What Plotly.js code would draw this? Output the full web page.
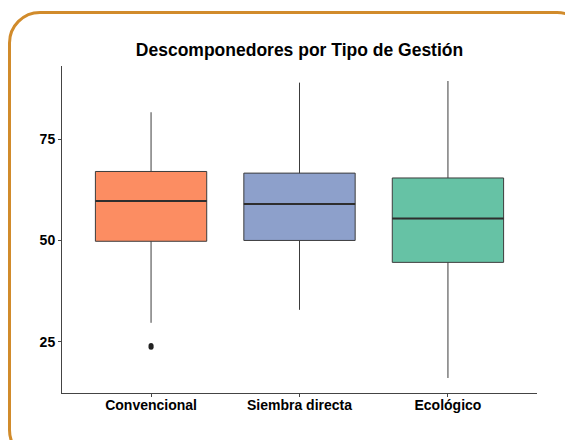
<!DOCTYPE html>
<html>
<head>
<meta charset="utf-8">
<script src="https://cdn.plot.ly/plotly-3.0.1.min.js"></script>
<style>
  html, body { margin:0; padding:0; background:#fff; }
  #wrap { position:relative; width:565px; height:440px; overflow:hidden; }
  #chart { position:absolute; left:0; top:0; width:565px; height:440px; }
  #frame { position:absolute; left:8px; top:11px; width:575px; height:445px; border:3px solid #D18B2B; border-radius:32px; pointer-events:none; }
</style>
</head>
<body>
<div id="wrap"><div id="chart"></div><div id="frame"></div></div>
<script>
// Data
const categories = ["Convencional", "Siembra directa", "Ecológico"];
const q1Values = [49.8, 50.0, 44.6];
const medianValues = [59.7, 59.0, 55.4];
const q3Values = [67.0, 66.6, 65.4];
const lowerWhisker = [29.7, 32.9, 16.1];
const upperWhisker = [81.6, 88.9, 89.3];
const outlierCategory = ["Convencional", "Convencional"];
const outlierValues = [24.1, 23.7];
const fillColors = ["#FC8D62", "#8DA0CB", "#66C2A5"];

const boxWidth = 0.75;
const traces = [];
categories.forEach((c, i) => {
  traces.push({
    type: "box",
    x: [i],
    q1: [q1Values[i]],
    median: [medianValues[i]],
    q3: [q3Values[i]],
    lowerfence: [lowerWhisker[i]],
    upperfence: [upperWhisker[i]],
    width: boxWidth,
    fillcolor: fillColors[i],
    line: { color: "#3c3c3c", width: 1 },
    whiskerwidth: 0,
    boxpoints: false,
    hoverinfo: "skip",
    showlegend: false
  });
});
// thicker median lines
categories.forEach((c, i) => {
  traces.push({
    type: "scatter", mode: "lines",
    x: [i - boxWidth / 2, i + boxWidth / 2],
    y: [medianValues[i], medianValues[i]],
    line: { color: "#2e2e2e", width: 2 },
    hoverinfo: "skip", showlegend: false
  });
});
// outliers
traces.push({
  type: "scatter", mode: "markers",
  x: outlierCategory.map(c => categories.indexOf(c)),
  y: outlierValues,
  marker: { color: "#222", size: 5 },
  hoverinfo: "skip", showlegend: false
});

const font = "'Liberation Sans', Arial, sans-serif";
const layout = {
  width: 565, height: 440,
  paper_bgcolor: "#fff", plot_bgcolor: "#fff",
  margin: { l: 62, r: 28, t: 66, b: 47 },
  title: {
    text: "<b>Descomponedores por Tipo de Gestión</b>",
    font: { family: font, size: 17.5, color: "#000" },
    x: 0.5, xref: "paper", y: 1 - 50 / 440, yref: "container", yanchor: "middle"
  },
  xaxis: {
    range: [-0.6, 2.6],
    tickvals: [0, 1, 2],
    ticktext: categories.map(c => "<b>" + c + "</b>"),
    showgrid: false, zeroline: false,
    showline: true, linecolor: "#444", linewidth: 1,
    ticks: "outside", ticklen: 3, tickcolor: "#444", tickwidth: 1,
    ticklabelstandoff: -4,
    tickfont: { family: font, size: 14, color: "#000" }
  },
  yaxis: {
    range: [12.4, 93.0],
    tickvals: [25, 50, 75],
    ticktext: ["<b>25</b>", "<b>50</b>", "<b>75</b>"],
    showgrid: false, zeroline: false,
    showline: true, linecolor: "#444", linewidth: 1,
    ticks: "outside", ticklen: 3, tickcolor: "#444", tickwidth: 1,
    tickfont: { family: font, size: 14, color: "#000" }
  },
  boxmode: "overlay"
};
Plotly.newPlot("chart", traces, layout, { displayModeBar: false, staticPlot: true });
</script>
</body>
</html>
